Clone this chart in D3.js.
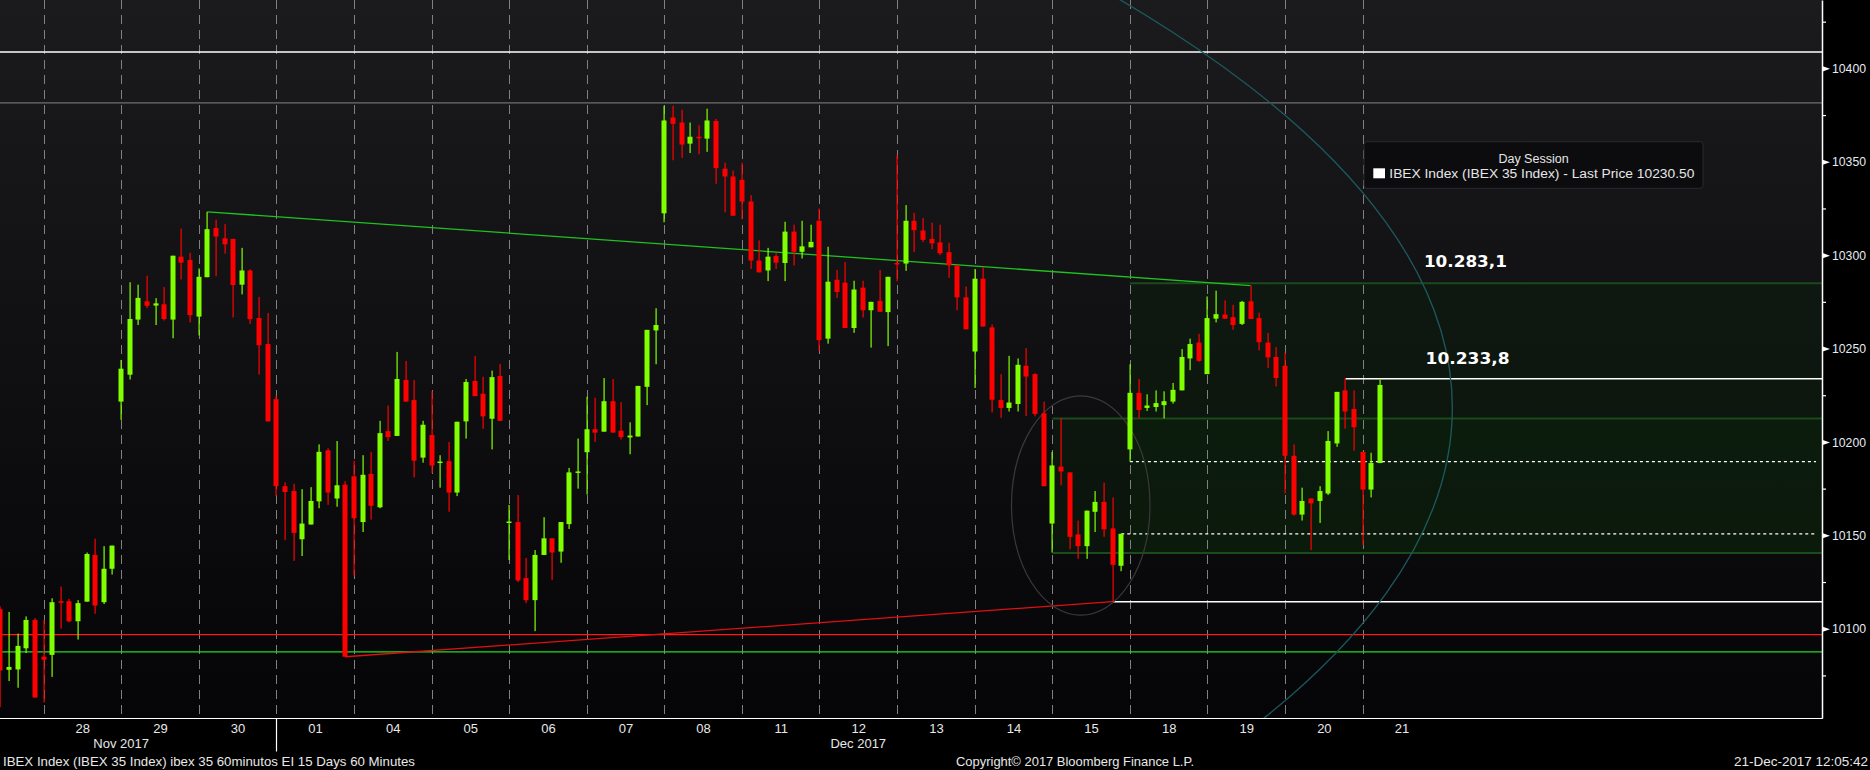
<!DOCTYPE html>
<html><head><meta charset="utf-8">
<script src="https://cdn.jsdelivr.net/npm/d3@7"></script>
<style>html,body{margin:0;padding:0;background:#000;overflow:hidden}</style>
</head><body><svg id="c" width="1870" height="770"></svg>
<script>
// ---------- DATA ----------
const opens = [10110.5,10078,10078.2,10089.5,10104.7,
10085,10086,10114.7,10114.7,10104,10114.5,10139.5,10114.2,10132.1,
10221.6,10236,10265.5,10275.3,10273,10273.7,10265.5,10299.2,10297.4,
10267.1,10288.2,10314.5,10309,10308.7,10284.2,10291.8,10266.3,10252.4,
10222.9,10176.3,10173.7,10147.9,10155.8,10168.2,10195.5,10169.7,10177.1,
10181.6,10157.1,10182.9,10165,10205.8,10203.2,10233.2,10222.4,10191.6,
10203.7,10188.9,10189.7,10172.9,10211,10232.6,10225.8,10212.4,10235.3,
10156.8,10157.1,10127.1,10115.3,10139.5,10148.4,10141.3,10156,10183.9,
10194.5,10206.8,10205.5,10221.8,10206,10202.4,10202.9,10229.5,10259.7,
10322.4,10373.7,10371,10359.7,10363.4,10362.4,10371.8,10346.3,10342.1,
10340.3,10328.7,10297.1,10291.8,10299.5,10295.8,10312.6,10301.8,10304.2,
10318.4,10255.3,10286.8,10285.3,10261,10282.6,10270.5,10275.5,10269.5,
10295.8,10295.5,10318.4,10313.2,10308.7,10306.8,10301.6,10294.5,10277.4,
10248.4,10287.4,10261.3,10222.4,10218.2,10220.3,10240.8,10236.3,10215.3,
10156.3,10186.8,10183.7,10150.5,10144.2,10162.6,10167.9,10153.7,10133.7,
10196,10226.3,10218.2,10218.7,10219.7,10221.6,10227.6,10244.7,10253.2,
10236.3,10266,10268.2,10266.8,10263.2,10275.3,10266.3,10253.2,10245.5,
10240.8,10192.6,10161.1,10169.7,10168.4,10172.4,10199.2,10227.6,10217.6,
10194.7,10174.5,10188.7];
const highs = [10112,10109,10097.4,10106.6,10105.7,
10104.7,10116.3,10122.6,10116,10115.3,10140.8,10148.2,10144.2,10144.5,
10243.9,10285.5,10284.2,10289,10277,10282.9,10299.7,10314.2,10301.3,
10292.9,10323.2,10319,10316.6,10308.7,10303.9,10292.4,10277.6,10269,
10224.7,10178.4,10177.6,10174.7,10175.8,10198.7,10196.6,10200.5,10179,
10190,10192.9,10194.7,10211.3,10219.5,10248.2,10243.4,10233.2,10211.3,
10227.1,10192.9,10200,10210.8,10233.7,10246,10234.9,10238.2,10241.8,
10166.3,10171.6,10137.9,10142.1,10159.7,10148.4,10157.1,10186.1,10201.8,
10224.2,10223.7,10234.2,10233.7,10221.3,10210.5,10230,10260,10271.6,
10380,10380,10377.9,10371,10369.5,10378.4,10372.9,10349.5,10345.3,
10349.5,10332.1,10307.9,10303.9,10301,10317.9,10316.3,10318.4,10316.3,
10325,10304.5,10292.1,10296.3,10286.3,10286.3,10275,10292.1,10288.4,
10353.7,10326.8,10322.6,10319.9,10317.4,10316.3,10306.6,10294.5,10283.2,
10292.6,10293.4,10262.9,10236.3,10246.1,10244.7,10250.3,10236.8,10221.6,
10194.7,10212.6,10183.7,10157.9,10163.2,10173.7,10178.2,10170.3,10150.8,
10241.6,10233.7,10225.5,10227.6,10227.1,10231.6,10249.7,10255.3,10257.9,
10277.9,10281,10275.8,10273.4,10275.5,10283.7,10269.2,10258.4,10250.8,
10247.9,10198.7,10175.5,10169.7,10176.3,10205.8,10226.8,10234.2,10227.6,
10194.7,10194.2,10233.4];
const lows = [10058,10072,10068.4,10087,10063,
10060.5,10074.2,10100,10103.4,10094.2,10114.5,10108,10113.2,10129,
10211.8,10233.4,10262.6,10271.6,10262.6,10265,10255.5,10287,10264,
10257,10288.2,10288.7,10300.8,10266.6,10279,10263.2,10236,10211,
10171,10147.4,10136.3,10138.9,10155.8,10164.5,10166.3,10165.3,10085,
10128.4,10151.8,10158.4,10164.5,10200.5,10203.2,10221.6,10181,10188.9,
10183.4,10175.5,10162.6,10171,10201.8,10224.5,10207,10196,10211.3,
10136.8,10125,10113.7,10098.7,10139.5,10126,10135.3,10153.4,10175,
10171.8,10200,10205.5,10205,10201.3,10193.4,10202.9,10219.7,10241.6,
10317.6,10350.8,10352.1,10354.7,10354,10355.3,10338.2,10322.9,10321.1,
10319.2,10292.6,10290.8,10286.1,10292.6,10286.1,10294.5,10298.2,10304.2,
10248.7,10252.6,10277.1,10261,10258.4,10266.6,10250.5,10269.7,10251.3,
10286,10291.6,10301.6,10307,10303.2,10300,10287.9,10270.5,10260.3,
10228.9,10261.8,10215.8,10212.9,10216.3,10216.3,10213.9,10213.7,10176.3,
10140.8,10176.8,10142.6,10137.4,10137.4,10151.8,10149.2,10114.5,10130.8,
10189.5,10212.6,10216.6,10216.3,10212.6,10220.5,10227.6,10238.4,10242.9,
10236.3,10264,10265.8,10260,10262.6,10265.8,10249,10239.5,10229.7,
10172.4,10160.5,10157.9,10142.1,10156.6,10171.6,10197.4,10207.1,10195.3,
10144.7,10170.3,10188.7];
const closes = [10077.6,10079.5,10090.8,10104.7,10063.2,
10083.4,10114.2,10114,10104,10113.7,10140,10112.4,10132.1,10144.5,
10239.2,10265.8,10277.1,10272.9,10274.2,10265.8,10299.7,10296,10267.9,
10288.4,10313.9,10310,10305.8,10284,10291.8,10265.8,10251.8,10211,
10176.3,10173.2,10151.3,10156.3,10168.4,10194.7,10172.9,10176.8,10085,
10159.2,10182.4,10165.8,10204.7,10202.6,10233.7,10221.6,10190,10209.2,
10187.4,10189.5,10172.9,10210.8,10232.1,10224.5,10213.7,10234.7,10211.3,
10157.4,10125.8,10115.3,10139.5,10148.4,10140.8,10157.1,10183.7,10184.2,
10206.8,10205,10221.8,10205,10202.6,10203.4,10230,10260,10262.6,
10372.1,10370.3,10359.2,10363.4,10363,10372.1,10346.6,10342.1,10321.1,
10328.7,10297.1,10290.8,10299.2,10296,10312.6,10301.8,10304.7,10307.1,
10254.5,10285.8,10280.3,10261,10281.6,10270.5,10275,10269.7,10288.4,
10295.3,10318.4,10313.4,10308.2,10306.3,10301,10294.5,10277.4,10260.3,
10287.4,10261.8,10222.6,10218.2,10221.1,10241.3,10235,10215,10176.3,
10187.4,10184.2,10149.2,10144.2,10163.2,10167.9,10153.2,10134.2,10150.8,
10226.3,10217.1,10219.5,10220.8,10221.8,10227.9,10245.5,10252.4,10243.4,
10266.3,10268.4,10266,10262.6,10275,10265.8,10253.4,10245.3,10234.2,
10192.6,10161.1,10168.4,10167.1,10173.7,10200.5,10226.8,10216.3,10207.9,
10174.5,10188.7,10230.5];

const dayLabels = ["28","29","30","01","04","05","06","07","08","11","12","13","14","15","18","19","20","21"];
const monthLabels = ["Nov 2017","Dec 2017"];
const monthLabelPos = [14, 99.5];      // bar index under which the month name sits
const monthBoundaryDay = 3;            // "01" starts December
const yTicks = [10100,10150,10200,10250,10300,10350,10400];
const yMinorTicks = [10075,10125,10175,10225,10275,10325,10375,10425];

// annotation levels (index values)
const whiteTopLevel = 10408.8;
const grayTopLevel = 10381.5;
const redLevel = 10096.8;
const greenLevel = 10087.6;
const supportLevel = 10114.5;          // from bar 129
const resistLabelLevel = 10233.8;      // from bar 156
const dotLevels = [10189.5, 10150.8];  // from bars 131, 130
const zones = [
  {from:131, top:10285, bottom:10140.6},
  {from:122, top:10212.6, bottom:10140.6}
];
const upTrend = {i0:40, v0:10085, i1:129, v1:10114.5};
const downTrend = {i0:24, v0:10323.2, i1:145, v1:10283.7};
const smallEllipse = {ci:125.3, cv:10166, rBars:8.03, rPts:58.7};
const bigEllipse = {ci:-295.5, cv:10218.2, rBars:463.9, rPts:547.6};
const levelLabels = ["10.283,1","10.233,8"];

// ---------- DRAW ----------
const svg = d3.select("#c");
const W = 1822, H = 718;
const x = d3.scaleLinear().domain([0,160]).range([0.4, 0.4 + 160*8.622]);
const y = d3.scaleLinear().domain([10052.2, 10436.6]).range([H, 0]);
const bar = x(1) - x(0);

svg.append("rect").attr("width",1870).attr("height",770).attr("fill","#000");
const defs = svg.append("defs");
const g1 = defs.append("linearGradient").attr("id","bg").attr("x1",0).attr("y1",0).attr("x2",0).attr("y2",1);
g1.append("stop").attr("offset","0").attr("stop-color","#1b1b1e");
g1.append("stop").attr("offset","1").attr("stop-color","#050508");
defs.append("clipPath").attr("id","clip").append("rect").attr("width",W).attr("height",H);

svg.append("rect").attr("width",W).attr("height",H).attr("fill","url(#bg)");
const plot = svg.append("g").attr("clip-path","url(#clip)");

// zones
zones.forEach(z=>{
  plot.append("rect").attr("x",x(z.from)).attr("y",y(z.top))
    .attr("width",W-x(z.from)).attr("height",y(z.bottom)-y(z.top))
    .attr("fill","rgb(10,34,10)").attr("fill-opacity",0.45);
});
zones.forEach(z=>{
  [z.top,z.bottom].forEach(v=>plot.append("line").attr("x1",x(z.from)).attr("x2",W)
    .attr("y1",y(v)).attr("y2",y(v)).attr("stroke","#1b4a1b").attr("stroke-width",2));
});

// day separators
const seps = dayLabels.map((d,k)=>5+9*k);
plot.selectAll("line.sep").data(seps).enter().append("line").attr("class","sep")
  .attr("x1",d=>Math.round(x(d))+0.5).attr("x2",d=>Math.round(x(d))+0.5)
  .attr("y1",0).attr("y2",H-4)
  .attr("stroke","#808080").attr("stroke-width",1).attr("stroke-dasharray","9,6");

// horizontal levels
const hl = (v,col,w,x0)=>plot.append("line").attr("x1",x0).attr("x2",W)
  .attr("y1",y(v)).attr("y2",y(v)).attr("stroke",col).attr("stroke-width",w);
hl(whiteTopLevel,"#ffffff",1.5,0);
hl(grayTopLevel,"#6e6e6e",1.2,0);
hl(redLevel,"#ff1a1a",1.2,0);
hl(greenLevel,"#22dd22",1.2,0);
hl(supportLevel,"#ffffff",1.5,x(upTrend.i1));
hl(resistLabelLevel,"#ffffff",1.5,x(156));
plot.append("line").attr("x1",x(131)).attr("x2",W-6).attr("y1",y(dotLevels[0])).attr("y2",y(dotLevels[0]))
  .attr("stroke","#fff").attr("stroke-width",1.3).attr("stroke-dasharray","3,3");
plot.append("line").attr("x1",x(130)).attr("x2",W-6).attr("y1",y(dotLevels[1])).attr("y2",y(dotLevels[1]))
  .attr("stroke","#fff").attr("stroke-width",1.3).attr("stroke-dasharray","3,3");

// trendlines
plot.append("line").attr("x1",x(downTrend.i0)).attr("y1",y(downTrend.v0))
  .attr("x2",x(downTrend.i1)).attr("y2",y(downTrend.v1)).attr("stroke","#1fc21f").attr("stroke-width",1.3);
plot.append("line").attr("x1",x(upTrend.i0)).attr("y1",y(upTrend.v0))
  .attr("x2",x(upTrend.i1)).attr("y2",y(upTrend.v1)).attr("stroke","#e01010").attr("stroke-width",1.3);

// ellipses
plot.append("ellipse").attr("cx",x(smallEllipse.ci)).attr("cy",y(smallEllipse.cv))
  .attr("rx",smallEllipse.rBars*bar).attr("ry",y(0)-y(smallEllipse.rPts))
  .attr("fill","none").attr("stroke","#3a3a3a").attr("stroke-width",1.2);
plot.append("ellipse").attr("cx",x(bigEllipse.ci)).attr("cy",y(bigEllipse.cv))
  .attr("rx",bigEllipse.rBars*bar).attr("ry",y(0)-y(bigEllipse.rPts))
  .attr("fill","none").attr("stroke","#1d5a5e").attr("stroke-width",1.3);

// candles
const data = opens.map((o,i)=>({i,o,h:highs[i],l:lows[i],c:closes[i]}));
const col = d=> d.c>=d.o ? "#80ff00" : "#ff0000";
const bw = 5;
const cg = plot.append("g");
cg.selectAll("rect.w").data(data).enter().append("rect").attr("class","w")
  .attr("x",d=>Math.round(x(d.i))-0.5).attr("width",1.2)
  .attr("y",d=>y(d.h)).attr("height",d=>Math.max(1,y(d.l)-y(d.h))).attr("fill",col);
cg.selectAll("rect.b").data(data).enter().append("rect").attr("class","b")
  .attr("x",d=>Math.round(x(d.i))-bw/2).attr("width",bw)
  .attr("y",d=>Math.min(y(d.o),y(d.c))).attr("height",d=>Math.max(1.5,Math.abs(y(d.o)-y(d.c))))
  .attr("fill",col);

// level labels
svg.append("text").text(levelLabels[0]).attr("x",x(165.1)).attr("y",y(zones[0].top)-16.5)
  .attr("font-family","DejaVu Sans").attr("font-weight","bold").attr("font-size",16)
  .attr("textLength",83).attr("lengthAdjust","spacingAndGlyphs").attr("fill","#fff");
svg.append("text").text(levelLabels[1]).attr("x",x(165.3)).attr("y",y(resistLabelLevel)-14.5)
  .attr("font-family","DejaVu Sans").attr("font-weight","bold").attr("font-size",16)
  .attr("textLength",84).attr("lengthAdjust","spacingAndGlyphs").attr("fill","#fff");

// legend
const lg = svg.append("g");
lg.append("rect").attr("x",1364).attr("y",141.7).attr("width",339).attr("height",46.6).attr("rx",3)
  .attr("fill","#0c0c0f").attr("stroke","#2b2b2f").attr("stroke-width",1);
lg.append("text").text("Day Session").attr("x",1533.5).attr("y",162.7).attr("text-anchor","middle")
  .attr("font-family","Liberation Sans").attr("font-size",12.5).attr("fill","#e6e6e6");
lg.append("rect").attr("x",1373.3).attr("y",168.3).attr("width",11.7).attr("height",10).attr("fill","#fff");
lg.append("text").text("IBEX Index (IBEX 35 Index) - Last Price 10230.50").attr("x",1389.3).attr("y",178.3)
  .attr("font-family","Liberation Sans").attr("font-size",12.5).attr("fill","#e6e6e6")
  .attr("textLength",305).attr("lengthAdjust","spacingAndGlyphs");

// y axis
const yAx = svg.append("g").attr("transform",`translate(${W},0)`)
  .call(d3.axisRight(y).tickValues(yTicks).tickFormat(d3.format("d")).tickSize(0).tickSizeOuter(0).tickPadding(10));
yAx.select(".domain").attr("stroke","#ffffff").attr("stroke-width",1.5);
yAx.selectAll("text").attr("font-family","Liberation Sans").attr("font-size",13)
  .attr("fill","#e4ecf4").attr("textLength",34).attr("lengthAdjust","spacingAndGlyphs");
yAx.selectAll(".tick").append("path").attr("d","M0,-2.8L0,2.8L8,0Z").attr("fill","#fff");
const yMin = svg.append("g").attr("transform",`translate(${W},0)`)
  .call(d3.axisRight(y).tickValues(yMinorTicks).tickSize(4).tickSizeOuter(0).tickFormat(""));
yMin.select(".domain").remove();
yMin.selectAll("line").attr("stroke","#fff").attr("stroke-width",1.2);

// x axis
svg.append("line").attr("x1",0).attr("x2",W+0.75).attr("y1",H+0.5).attr("y2",H+0.5)
  .attr("stroke","#fff").attr("stroke-width",1.2);
const xAx = svg.append("g").attr("transform",`translate(0,${H})`)
  .call(d3.axisBottom(x).tickValues(seps.map(s=>s+4.5)).tickFormat((d,k)=>dayLabels[k])
    .tickSize(0).tickPadding(5.5));
xAx.select(".domain").remove();
xAx.selectAll("text").attr("font-family","Liberation Sans").attr("font-size",13).attr("fill","#e8e8e8");
svg.append("line").attr("x1",Math.round(x(seps[monthBoundaryDay]))+0.5).attr("x2",Math.round(x(seps[monthBoundaryDay]))+0.5)
  .attr("y1",H).attr("y2",751.5).attr("stroke","#fff").attr("stroke-width",1.2);
svg.selectAll("text.month").data(monthLabels).enter().append("text").attr("class","month")
  .text(d=>d).attr("x",(d,k)=>x(monthLabelPos[k])).attr("y",748).attr("text-anchor","middle")
  .attr("font-family","Liberation Sans").attr("font-size",13).attr("fill","#e8e8e8");

// footer
const ft = (t,xx,anchor,len)=>svg.append("text").text(t).attr("x",xx).attr("y",766)
  .attr("text-anchor",anchor).attr("font-family","Liberation Sans").attr("font-size",13)
  .attr("fill","#e8e8e8").attr("textLength",len).attr("lengthAdjust","spacingAndGlyphs");
ft("IBEX Index (IBEX 35 Index) ibex 35 60minutos EI 15 Days 60 Minutes",3,"start",412);
ft("Copyright\u00A9 2017 Bloomberg Finance L.P.",956,"start",238);
ft("21-Dec-2017 12:05:42",1734,"start",134);
</script></body></html>
